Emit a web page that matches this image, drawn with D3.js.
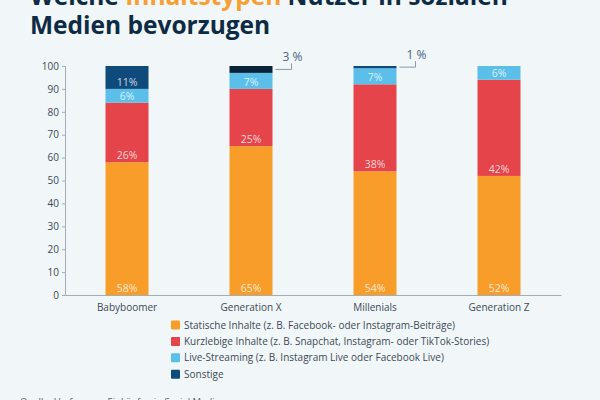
<!DOCTYPE html>
<html>
<head>
<meta charset="utf-8">
<script src="https://cdn.jsdelivr.net/npm/d3@7"></script>
<style>
  html, body { margin: 0; padding: 0; background: #f1f6f8; }
  svg { display: block; font-family: "Open Sans", sans-serif; }
</style>
</head>
<body>
<svg width="600" height="400"></svg>
<script>
const categories = ['Babyboomer', 'Generation X', 'Millenials', 'Generation Z'];
const seriesNames = [
    'Statische Inhalte (z. B. Facebook- oder Instagram-Beiträge)',
    'Kurzlebige Inhalte (z. B. Snapchat, Instagram- oder TikTok-Stories)',
    'Live-Streaming (z. B. Instagram Live oder Facebook Live)',
    'Sonstige'
];
const statisch = [58, 65, 54, 52];
const kurzlebig = [26, 25, 38, 42];
const live = [6, 7, 7, 6];
const sonstige = [11, 3, 1, 0];
const yTicks = [0, 10, 20, 30, 40, 50, 60, 70, 80, 90, 100];

const colors = ['#f99d2a', '#e5454a', '#5bbfea', '#0f4a7d'];
const seriesValues = [statisch, kurzlebig, live, sonstige];

const svg = d3.select('svg');

// title
const title = svg.append('text')
    .attr('x', 30)
    .attr('y', 5)
    .attr('font-size', 24.5)
    .attr('font-weight', 'bold')
    .attr('fill', '#0d2b45');
title.append('tspan').text('Welche ');
title.append('tspan').attr('fill', '#f7a032').text('Inhaltstypen');
title.append('tspan').text(' Nutzer in sozialen');
svg.append('text')
    .attr('x', 30)
    .attr('y', 34)
    .attr('font-size', 24.5)
    .attr('font-weight', 'bold')
    .attr('fill', '#0d2b45')
    .text('Medien bevorzugen');

const x = d3.scaleBand()
    .domain(categories)
    .range([65, 561]);

// the axis stops at 100, rounded totals above that are cut off
const y = d3.scaleLinear()
    .domain([0, 100])
    .range([295, 66])
    .clamp(true);

const barWidth = 43;

// stacked data
const rows = categories.map((c, i) => {
    const row = { category: c };
    seriesValues.forEach((s, j) => { row[j] = s[i]; });
    return row;
});
const stacked = d3.stack().keys([0, 1, 2, 3])(rows);

const layers = svg.append('g')
    .selectAll('g')
    .data(stacked)
    .enter()
    .append('g')
    .attr('fill', (d, i) => colors[i]);

layers.selectAll('rect')
    .data(d => d.map(p => ({ p: p, key: d.key })))
    .enter()
    .append('rect')
    .attr('x', d => x(d.p.data.category) + x.bandwidth() / 2 - barWidth / 2)
    .attr('width', barWidth)
    .attr('y', d => y(d.p[1]))
    .attr('height', d => y(d.p[0]) - y(d.p[1]))
    .attr('fill', d => (d.key === 3 && d.p.data.category === 'Generation X') ? '#0b2339' : null);

// labels inside the bars
layers.selectAll('text')
    .data(d => d.map(p => ({ p: p, key: d.key })).filter(d => d.p[1] - d.p[0] >= 5))
    .enter()
    .append('text')
    .attr('x', d => x(d.p.data.category) + x.bandwidth() / 2)
    .attr('y', d => y(d.p[0]) - 3)
    .attr('text-anchor', 'middle')
    .attr('font-size', 10.5)
    .attr('fill', 'rgba(255,255,255,0.78)')
    .text(d => (d.p[1] - d.p[0]) + '%');

// callouts for small segments
const small = stacked[3].filter(p => p[1] - p[0] > 0 && p[1] - p[0] < 5);
const callouts = svg.append('g').selectAll('g')
    .data(small)
    .enter()
    .append('g');
callouts.append('path')
    .attr('d', p => {
        const x0 = x(p.data.category) + x.bandwidth() / 2 + barWidth / 2 + 3;
        const ym = (y(p[0]) + y(p[1])) / 2;
        return 'M' + x0 + ',' + ym + 'H' + (x0 + 16) + 'V' + (ym - 6);
    })
    .attr('fill', 'none')
    .attr('stroke', '#8a9aa8')
    .attr('stroke-width', 1);
callouts.append('text')
    .attr('x', p => x(p.data.category) + x.bandwidth() / 2 + barWidth / 2 + 20)
    .attr('y', p => (y(p[0]) + y(p[1])) / 2 - 8)
    .attr('text-anchor', 'middle')
    .attr('font-size', 12)
    .attr('fill', '#4a6580')
    .text(p => (p[1] - p[0]) + ' %');

// axes
const yAxis = svg.append('g')
    .attr('transform', 'translate(65,0)')
    .call(d3.axisLeft(y).tickValues(yTicks).tickSize(3).tickPadding(3));
yAxis.select('.domain').attr('stroke', '#a3adb5');
yAxis.selectAll('.tick line').attr('stroke', '#a3adb5');
yAxis.selectAll('.tick text')
    .attr('font-size', 10)
    .attr('font-family', '"Open Sans", sans-serif')
    .attr('fill', '#3c4a56');

const xAxis = svg.append('g')
    .attr('transform', 'translate(0,295)')
    .call(d3.axisBottom(x).tickSize(0).tickPadding(9));
xAxis.select('.domain').attr('stroke', '#a3adb5');
xAxis.selectAll('.tick text')
    .attr('font-size', 10)
    .attr('font-family', '"Open Sans", sans-serif')
    .attr('fill', '#3c4a56');

// legend
const legend = svg.append('g')
    .selectAll('g')
    .data(seriesNames)
    .enter()
    .append('g')
    .attr('transform', (d, i) => 'translate(171,' + (325 + i * 16.4) + ')');
legend.append('rect')
    .attr('x', 0)
    .attr('y', -4.5)
    .attr('width', 9)
    .attr('height', 9)
    .attr('rx', 1)
    .attr('fill', (d, i) => colors[i]);
legend.append('text')
    .attr('x', 13)
    .attr('y', 3.5)
    .attr('font-size', 10)
    .attr('fill', '#3c4a56')
    .text(d => d);

// source
svg.append('text')
    .attr('x', 20)
    .attr('y', 405)
    .attr('font-size', 9.5)
    .attr('fill', '#55626d')
    .text('Quelle: Umfrage zu Einkäufen in Social Media');
</script>
</body>
</html>
